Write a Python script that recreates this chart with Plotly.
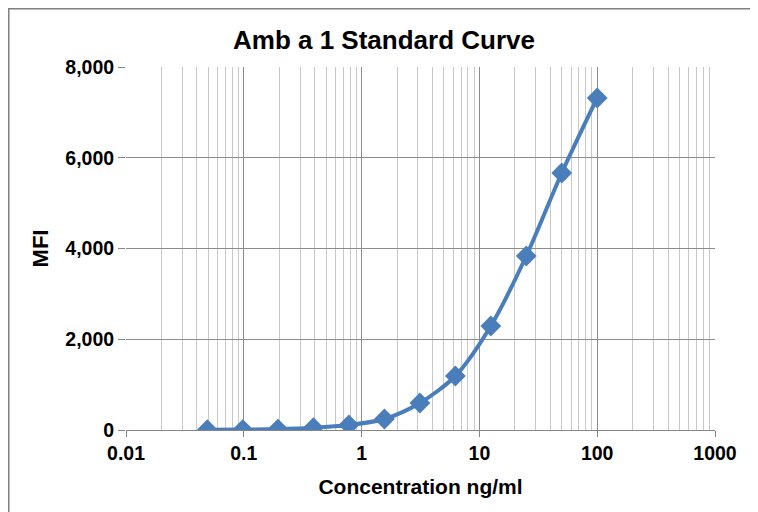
import plotly.graph_objects as go

concentration = [0.049, 0.098, 0.195, 0.39, 0.78, 1.5625, 3.125, 6.25, 12.5, 25, 50, 100]
mfi = [5, 10, 20, 50, 110, 242, 595, 1190, 2292, 3835, 5664, 7317]
x_tick_vals = [0.01, 0.1, 1, 10, 100, 1000]
x_tick_text = ["0.01", "0.1", "1", "10", "100", "1000"]
y_tick_vals = [0, 2000, 4000, 6000, 8000]

blue = "#4A7EBB"
font_family = "Liberation Sans, Arial, sans-serif"

W, H = 750, 504
L, R, T, B = 118, 43, 59, 82
pw, ph = W - L - R, H - T - B

fig = go.Figure()
fig.add_trace(go.Scatter(
    x=concentration, y=mfi, mode="lines+markers",
    line=dict(color=blue, width=4, shape="spline", smoothing=0.8),
    marker=dict(symbol="diamond", size=16, color=blue),
    showlegend=False,
))

fig.update_layout(
    width=W, height=H,
    margin=dict(l=L, r=R, t=T, b=B),
    paper_bgcolor="white", plot_bgcolor="white",
    title=dict(text="<b>Amb a 1 Standard Curve</b>", x=376 / W, xanchor="center",
               y=1 - 32 / H, yanchor="middle",
               font=dict(family=font_family, size=26, color="black")),
    font=dict(family=font_family, color="black"),
    xaxis=dict(
        type="log", range=[-2, 3],
        tickvals=x_tick_vals, ticktext=["<b>%s</b>" % t for t in x_tick_text],
        tickfont=dict(size=19.5), ticks="outside", ticklen=6, tickcolor="#868686",
        showgrid=True, gridcolor="#8C8C8C", gridwidth=1,
        minor=dict(showgrid=True, dtick="D1", tick0=0, gridcolor="#C8C8C8", gridwidth=1, ticks=""),
        showline=True, linecolor="#868686", linewidth=1,
        zeroline=False,
        title=dict(text="<b>Concentration ng/ml</b>", font=dict(size=21), standoff=15),
    ),
    yaxis=dict(
        range=[0, 8000], tickvals=y_tick_vals, tickformat=",",
        tickfont=dict(size=19.5, weight="bold"), ticks="outside", ticklen=7, tickcolor="#868686",
        showgrid=True, gridcolor="#8C8C8C", gridwidth=1,
        showline=False, zeroline=False,
        title=dict(text="<b>MFI</b>", font=dict(size=22), standoff=10),
    ),
    shapes=[dict(type="rect", xref="paper", yref="paper",
                 x0=(0.5 - L) / pw, x1=(W + 20 - L) / pw,
                 y0=-(B + 20) / ph, y1=1 + (T - 0.5) / ph,
                 line=dict(color="#808080", width=2), fillcolor="rgba(0,0,0,0)", layer="below")],
)

fig.write_html("out.html")
